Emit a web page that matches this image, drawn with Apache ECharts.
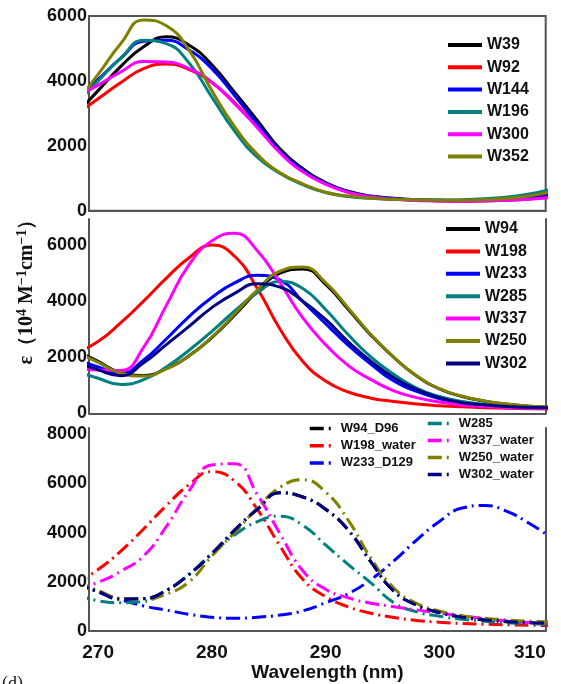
<!DOCTYPE html>
<html>
<head>
<meta charset="utf-8">
<script src="https://cdn.jsdelivr.net/npm/echarts@6/dist/echarts.min.js"></script>
<style>
  html, body { margin: 0; padding: 0; background: #fff; }
  #chart { width: 561px; height: 684px; }
</style>
</head>
<body>
<div id="chart"></div>
<script>
// wavelength grid (nm); first / last points sit just outside the axis range
const wl = [268, 270, 272, 274, 276, 278, 280, 282, 284, 286, 288, 290, 292, 294, 296, 298, 300, 302, 304, 306, 308, 310];

// panel 1
const W39  = [2950, 3700, 4450, 5050, 5360, 5100, 4500, 3650, 2780, 1900, 1300, 870, 600, 450, 380, 340, 320, 310, 320, 350, 420, 530];
const W92  = [2950, 3450, 3950, 4380, 4520, 4350, 3950, 3330, 2580, 1800, 1220, 830, 570, 430, 360, 320, 300, 290, 300, 320, 360, 420];
const W144 = [3450, 4050, 4700, 5220, 5250, 4950, 4380, 3550, 2680, 1830, 1250, 840, 580, 440, 370, 335, 320, 315, 325, 360, 430, 540];
const W196 = [3250, 4000, 4700, 5250, 5150, 4550, 3500, 2450, 1650, 1150, 800, 560, 440, 380, 350, 335, 330, 340, 370, 420, 520, 680];
const W300 = [3500, 3870, 4280, 4600, 4580, 4380, 3960, 3300, 2560, 1780, 1200, 820, 560, 420, 350, 315, 300, 290, 300, 320, 360, 410];
const W352 = [3300, 4200, 5150, 5880, 5700, 4950, 3700, 2590, 1740, 1170, 830, 570, 450, 385, 350, 335, 325, 325, 340, 380, 460, 600];

// panel 2
const W94  = [2250, 1850, 1450, 1350, 1600, 2050, 2700, 3500, 4350, 5000, 5150, 4600, 3700, 2780, 1990, 1330, 870, 600, 430, 320, 250, 210];
const W198 = [2150, 2560, 3230, 4000, 4820, 5550, 6000, 5600, 4450, 3000, 1850, 1150, 760, 540, 420, 330, 270, 230, 200, 180, 165, 150];
const W233 = [1950, 1650, 1420, 1900, 2650, 3450, 4130, 4650, 4920, 4750, 3980, 3200, 2420, 1750, 1150, 780, 520, 350, 270, 220, 195, 175];
const W285 = [1500, 1250, 1030, 1200, 1650, 2250, 2920, 3650, 4300, 4700, 4450, 3700, 2800, 2000, 1390, 900, 600, 420, 320, 260, 225, 200];
const W337 = [1600, 1540, 1530, 2350, 3850, 5300, 6150, 6420, 5800, 4650, 3400, 2450, 1700, 1200, 800, 560, 400, 300, 240, 200, 180, 165];
const W250 = [2200, 1820, 1430, 1330, 1580, 2050, 2720, 3540, 4400, 5070, 5220, 4660, 3750, 2800, 2000, 1340, 880, 610, 440, 330, 255, 215];
const W302 = [1850, 1550, 1340, 1800, 2450, 3100, 3770, 4280, 4620, 4500, 4000, 3350, 2550, 1850, 1270, 850, 560, 380, 300, 240, 210, 190];

// panel 3
const W94_D96    = [1950, 1600, 1300, 1320, 1650, 2300, 3150, 4100, 4950, 5620, 5450, 4950, 4100, 2800, 1620, 1050, 750, 560, 450, 380, 340, 310];
const W198_water = [1900, 2500, 3250, 4150, 5100, 5950, 6480, 6100, 4950, 3450, 2100, 1400, 980, 720, 550, 430, 355, 305, 275, 252, 235, 220];
const W233_D129  = [2000, 1600, 1280, 1020, 850, 680, 560, 515, 560, 650, 820, 1150, 1520, 2100, 2850, 3700, 4450, 5000, 5100, 4850, 4350, 3750];
const W285_b     = [1500, 1230, 1150, 1200, 1650, 2300, 3150, 3900, 4450, 4670, 4300, 3500, 2700, 1950, 1150, 780, 600, 480, 400, 340, 300, 270];
const W337_water = [1700, 1980, 2430, 3050, 4250, 5700, 6750, 6800, 5550, 3950, 2450, 1700, 1350, 1130, 990, 860, 730, 610, 500, 410, 345, 300];
const W250_water = [2000, 1650, 1330, 1300, 1500, 2000, 3050, 4000, 5000, 5850, 6150, 5650, 4500, 2950, 1750, 1120, 820, 620, 520, 450, 400, 370];
const W302_water = [1950, 1600, 1300, 1320, 1650, 2300, 3150, 4100, 4950, 5620, 5450, 4950, 4100, 2800, 1620, 1050, 750, 560, 450, 380, 340, 310];

const C = {
  black: '#000000', red: '#ff0000', blue: '#0000ff', teal: '#008080',
  magenta: '#ff00ff', olive: '#808000', navy: '#000080'
};

const dashDot = [14, 5, 2, 5];

function mk(name, ys, color, gi, dashed) {
  return {
    name: name,
    type: 'line',
    xAxisIndex: gi,
    yAxisIndex: gi,
    data: wl.map((x, i) => [x, ys[i]]),
    smooth: 0.5,
    symbol: 'none',
    color: color,
    lineStyle: { width: 3, color: color, type: dashed ? dashDot : 'solid' }
  };
}

const font = 'Liberation Sans, Arial, sans-serif';
const axisCol = '#555';

function xAx(gi, labels) {
  return {
    type: 'value', gridIndex: gi, min: 269.2, max: 309.35,
    axisLine: { show: true, onZero: false, lineStyle: { color: axisCol, width: 2 } },
    axisTick: { show: false },
    splitLine: { show: false },
    axisLabel: labels ? {
      show: true, color: '#111', fontSize: 19, fontWeight: 'bold', fontFamily: font, margin: 12,
      alignMaxLabel: 'right',
      formatter: v => (Math.abs(v % 10) < 1e-6 ? String(v) : (v > 305 ? '310' : ''))
    } : { show: false },
    name: labels ? 'Wavelength (nm)' : '',
    nameLocation: 'middle', nameGap: 27,
    nameTextStyle: { fontSize: 19, fontWeight: 'bold', fontFamily: font, color: '#111', padding: [0, 0, 0, 20] }
  };
}

function yAx(gi, max) {
  return {
    type: 'value', gridIndex: gi, min: 0, max: max, interval: 2000,
    axisLine: { show: true, lineStyle: { color: axisCol, width: 2 } },
    axisTick: { show: false },
    splitLine: { show: false },
    axisLabel: {
      color: '#111', fontSize: 18, fontWeight: 'bold', fontFamily: font, margin: 2,
      formatter: v => (v % 2000 === 0 ? String(v) : '')
    }
  };
}

function rightAx(gi, max) {
  return {
    type: 'value', gridIndex: gi, min: 0, max: max, position: 'right',
    axisLine: { show: true, lineStyle: { color: axisCol, width: 2 } },
    axisTick: { show: false }, axisLabel: { show: false }, splitLine: { show: false }
  };
}

const legendText = { fontSize: 16, fontWeight: 'bold', fontFamily: font, color: '#111', lineHeight: 16 };
const smallText = { fontSize: 13, fontWeight: 'bold', fontFamily: font, color: '#111', lineHeight: 13 };

const chart = echarts.init(document.getElementById('chart'));
chart.setOption({
  animation: false,
  backgroundColor: '#fff',
  grid: [
    { left: 89, right: 15.3, top: 16, height: 194.7, show: true, borderColor: axisCol, borderWidth: 2 },
    { left: 89, right: 15.3, top: 219, height: 194.3 },
    { left: 89, right: 15.3, top: 428, height: 203 }
  ],
  xAxis: [xAx(0, false), xAx(1, false), xAx(2, true)],
  yAxis: [yAx(0, 6000), yAx(1, 6930), yAx(2, 8255), rightAx(1, 6930), rightAx(2, 8255)],
  legend: [
    {
      data: ['W39', 'W92', 'W144', 'W196', 'W300', 'W352'],
      orient: 'vertical', left: 441, top: 32, itemWidth: 34, itemHeight: 16, itemGap: 6.3,
      itemStyle: { opacity: 0 }, lineStyle: { width: 4 },
      textStyle: legendText
    },
    {
      data: ['W94', 'W198', 'W233', 'W285', 'W337', 'W250', 'W302'],
      orient: 'vertical', left: 439, top: 216, itemWidth: 34, itemHeight: 16, itemGap: 6.4,
      itemStyle: { opacity: 0 }, lineStyle: { width: 4 },
      textStyle: legendText
    },
    {
      data: ['W94_D96', 'W198_water', 'W233_D129'],
      orient: 'vertical', left: 303, top: 417, itemWidth: 26, itemHeight: 13, itemGap: 4.2,
      itemStyle: { opacity: 0 }, lineStyle: { width: 3.5 },
      textStyle: smallText
    },
    {
      data: ['W285 ', 'W337_water', 'W250_water', 'W302_water'],
      orient: 'vertical', left: 421, top: 412, itemWidth: 26, itemHeight: 13, itemGap: 4,
      itemStyle: { opacity: 0 }, lineStyle: { width: 3.5 },
      textStyle: smallText
    }
  ],
  graphic: [
    {
      type: 'text', x: 27, y: 287, rotation: Math.PI / 2,
      style: {
        text: '{a|ε（10}{s|4}{a| M}{s|−1}{a|cm}{s|−1}{a|）}',
        align: 'center', verticalAlign: 'middle',
        rich: {
          a: { fontSize: 20, fontWeight: 'bold', fontFamily: 'Liberation Serif, Times New Roman, serif', fill: '#111' },
          s: { fontSize: 14, fontWeight: 'bold', fontFamily: 'Liberation Serif, Times New Roman, serif', fill: '#111', verticalAlign: 'top', padding: [0, 0, 10, 0] }
        }
      }
    },
    {
      type: 'text', left: 2, top: 675,
      style: { text: '(d)', fontSize: 18, fontFamily: 'Liberation Serif, serif', fill: '#111' }
    }
  ],
  series: [
    mk('W39', W39, C.black, 0),
    mk('W92', W92, C.red, 0),
    mk('W144', W144, C.blue, 0),
    mk('W196', W196, C.teal, 0),
    mk('W300', W300, C.magenta, 0),
    mk('W352', W352, C.olive, 0),

    mk('W94', W94, C.black, 1),
    mk('W198', W198, C.red, 1),
    mk('W233', W233, C.blue, 1),
    mk('W285', W285, C.teal, 1),
    mk('W337', W337, C.magenta, 1),
    mk('W250', W250, C.olive, 1),
    mk('W302', W302, C.navy, 1),

    mk('W94_D96', W94_D96, C.black, 2, true),
    mk('W198_water', W198_water, C.red, 2, true),
    mk('W233_D129', W233_D129, C.blue, 2, true),
    mk('W285 ', W285_b, C.teal, 2, true),
    mk('W337_water', W337_water, C.magenta, 2, true),
    mk('W250_water', W250_water, C.olive, 2, true),
    mk('W302_water', W302_water, C.navy, 2, true)
  ]
});
</script>
</body>
</html>
